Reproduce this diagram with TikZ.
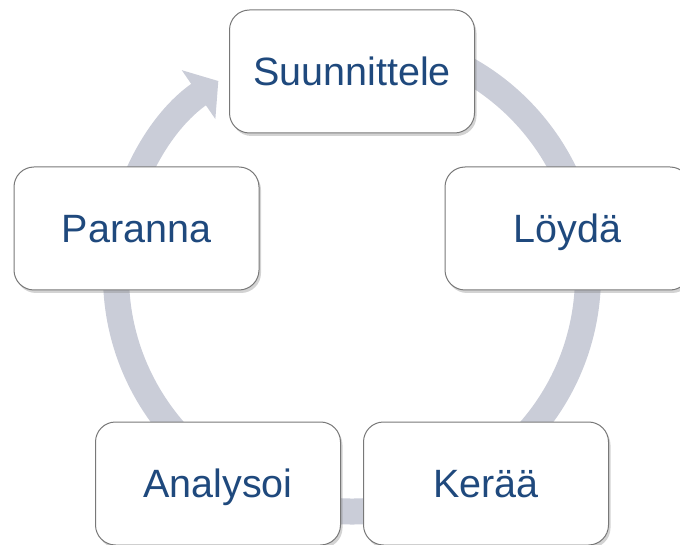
\documentclass[tikz,border=0pt]{standalone}
\usepackage{fontspec}
\setmainfont{Liberation Sans}
\usepackage{tikz}
\usetikzlibrary{arrows.meta,shadows}
\definecolor{cyring}{RGB}{202,205,216}
\definecolor{cytext}{RGB}{31,73,125}
\definecolor{cyedge}{RGB}{120,120,120}
\tikzset{
  cybox/.style={draw=cyedge,line width=1pt,fill=white,rounded corners=20pt,
    minimum width=245pt,minimum height=123pt,text=cytext,
    text height=28pt,text depth=0pt,
    font=\fontsize{39.5}{46}\selectfont,
    drop shadow={shadow xshift=2pt,shadow yshift=-3pt,opacity=0.35}},
  ringarrow/.style={draw=cyring,line width=26pt,-{Triangle[width=58pt,length=24pt]}}
}

\begin{document}
\begin{tikzpicture}[x=1pt,y=1pt]
\useasboundingbox (0,0) rectangle (680,544);
\coordinate (c) at (352,268.5);
\coordinate (ringstart) at ([shift={(85:236)}]c);
\draw[ringarrow] (ringstart) arc[start angle=85,end angle=-235.5,radius=236];
\node[cybox] (suunnittele) at (352,472.5) {Suunnittele};
\node[cybox] (loyda) at (567.5,315.5) {Löydä};
\node[cybox] (keraa) at (486,60.5) {Kerää};
\node[cybox] (analysoi) at (218,60.5) {Analysoi};
\node[cybox] (paranna) at (136.5,315.5) {Paranna};
\end{tikzpicture}
\end{document}
